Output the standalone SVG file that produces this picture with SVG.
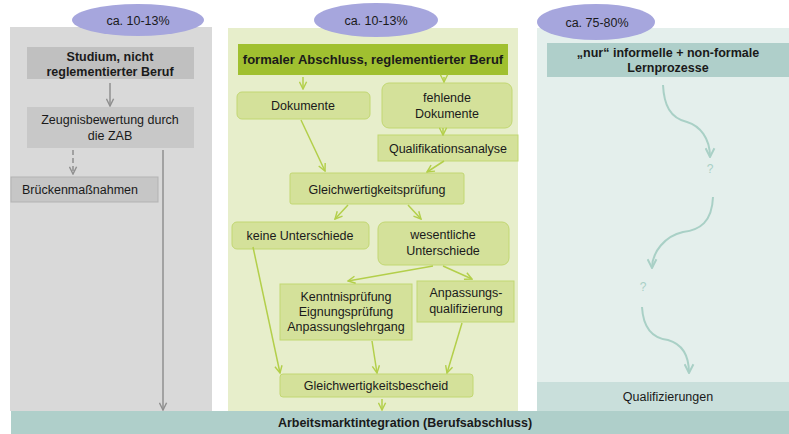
<svg xmlns="http://www.w3.org/2000/svg" width="789" height="434" viewBox="0 0 789 434">
<defs>
<style>
text{font-family:"Liberation Sans",Arial,sans-serif;font-size:12.5px;fill:#1a1a1a;text-anchor:middle}
.b{font-weight:bold}
.ell{fill:#a6a6dd}
.g1{fill:#c0c0c0}
.g2{fill:#c8c8c8}
.gn{fill:#d4e19a;stroke:#c2d772;stroke-width:1}
.gl{stroke:#b3cf4a;stroke-width:1.5;fill:none}
.gr{stroke:#8f8f8f;stroke-width:1.5;fill:none}
.tl{stroke:#a9d0c6;stroke-width:2;fill:none}
.q{fill:#a9d0c6;font-size:12px}
</style>
<marker id="ag" viewBox="0 0 10 10" refX="9" refY="5" markerWidth="9" markerHeight="9" markerUnits="userSpaceOnUse" orient="auto"><path d="M1,1 L9,5 L1,9" fill="none" stroke="#b3cf4a" stroke-width="1.6"/></marker>
<marker id="ar" viewBox="0 0 10 10" refX="9" refY="5" markerWidth="9" markerHeight="9" markerUnits="userSpaceOnUse" orient="auto"><path d="M1,1 L9,5 L1,9" fill="none" stroke="#8f8f8f" stroke-width="1.6"/></marker>
<marker id="at" viewBox="0 0 10 10" refX="9" refY="5" markerWidth="11" markerHeight="11" markerUnits="userSpaceOnUse" orient="auto"><path d="M1,1 L9,5 L1,9" fill="none" stroke="#a9d0c6" stroke-width="1.8"/></marker>
</defs>
<rect width="789" height="434" fill="#ffffff"/>
<g id="panels">
<rect x="10" y="27" width="202" height="384" fill="#d9d9d9"/>
<rect x="228" y="28" width="290" height="383" fill="#e7eecb"/>
<rect x="537" y="28" width="252" height="383" fill="#e4efec"/>
</g>
<g id="share-left"><ellipse class="ell" cx="138" cy="20" rx="66" ry="16"/><text x="138" y="25">ca. 10-13%</text></g>
<g id="share-mid"><ellipse class="ell" cx="376" cy="20" rx="62" ry="17"/><text x="376" y="25">ca. 10-13%</text></g>
<g id="share-right"><ellipse class="ell" cx="596" cy="22" rx="59" ry="18"/><text x="597" y="27">ca. 75-80%</text></g>

<g id="studium"><rect class="g1" x="27" y="47" width="167" height="32"/><text class="b" x="110" y="61">Studium, nicht</text><text class="b" x="110" y="76">reglementierter Beruf</text></g>
<g id="zab"><rect class="g2" x="27" y="107" width="167" height="41"/><text x="110" y="124">Zeugnisbewertung durch</text><text x="110" y="140">die ZAB</text></g>
<g id="bruecken"><rect x="11" y="177" width="147" height="25" fill="#c6c6c6" stroke="#b3b3b3"/><text x="80" y="194">Brückenmaßnahmen</text></g>

<g id="formal"><rect x="238" y="44" width="270" height="31" fill="#a0c030"/><text class="b" x="373" y="64" style="font-size:13px">formaler Abschluss, reglementierter Beruf</text></g>
<g id="dokumente"><rect class="gn" x="237" y="92" width="133" height="27" rx="5"/><text x="303" y="110">Dokumente</text></g>
<g id="fehlende"><rect class="gn" x="382" y="83" width="130" height="45" rx="7"/><text x="447" y="102">fehlende</text><text x="447" y="118">Dokumente</text></g>
<g id="qualianalyse"><rect class="gn" x="378" y="135" width="140" height="26"/><text x="448" y="153">Qualifikationsanalyse</text></g>
<g id="gwpruefung"><rect class="gn" x="290" y="173" width="174" height="31" rx="2"/><text x="377" y="194">Gleichwertigkeitsprüfung</text></g>
<g id="keine"><rect class="gn" x="232" y="222" width="137" height="27" rx="5"/><text x="300" y="240">keine Unterschiede</text></g>
<g id="wesentlich"><rect class="gn" x="378" y="222" width="131" height="43" rx="7"/><text x="443" y="239">wesentliche</text><text x="443" y="255">Unterschiede</text></g>
<g id="kenntnis"><rect class="gn" x="280" y="284" width="132" height="56"/><text x="346" y="301">Kenntnisprüfung</text><text x="346" y="316">Eignungsprüfung</text><text x="346" y="331">Anpassungslehrgang</text></g>
<g id="anpassung"><rect class="gn" x="417" y="281" width="97" height="41"/><text x="466" y="297">Anpassungs-</text><text x="466" y="313">qualifizierung</text></g>
<g id="bescheid"><rect class="gn" x="280" y="374" width="193" height="23" rx="3"/><text x="376" y="390">Gleichwertigkeitsbescheid</text></g>

<g id="informell"><rect x="547" y="43" width="242" height="34" fill="#afcfca"/><text class="b" x="668" y="57">„nur“ informelle + non-formale</text><text class="b" x="668" y="72">Lernprozesse</text></g>
<g id="q1"><text class="q" x="710" y="173">?</text></g>
<g id="q2"><text class="q" x="643" y="291">?</text></g>
<g id="qualifizierungen"><rect x="537" y="382" width="252" height="29" fill="#c9dfdb"/><text x="668" y="401">Qualifizierungen</text></g>

<g id="arbeitsmarkt"><rect x="11" y="411" width="778" height="23" fill="#afcfca"/><text class="b" x="405" y="427">Arbeitsmarktintegration (Berufsabschluss)</text></g>

<g id="connectors">
<line class="gr" x1="110" y1="83" x2="110" y2="106" marker-end="url(#ar)"/>
<line class="gr" x1="73" y1="150" x2="73" y2="174" stroke-dasharray="5,3" marker-end="url(#ar)"/>
<line class="gr" x1="163" y1="150" x2="163" y2="410" marker-end="url(#ar)"/>
<line class="gl" x1="303" y1="77" x2="303" y2="89" marker-end="url(#ag)"/>
<line class="gl" x1="444" y1="77" x2="444" y2="82" marker-end="url(#ag)"/>
<line class="gl" x1="443" y1="128" x2="443" y2="135" marker-end="url(#ag)"/>
<line class="gl" x1="301" y1="120" x2="325" y2="171" marker-end="url(#ag)"/>
<line class="gl" x1="444" y1="161" x2="427" y2="172" marker-end="url(#ag)"/>
<line class="gl" x1="348" y1="205" x2="335" y2="219" marker-end="url(#ag)"/>
<line class="gl" x1="408" y1="205" x2="421" y2="219" marker-end="url(#ag)"/>
<line class="gl" x1="433" y1="266" x2="348" y2="281" marker-end="url(#ag)"/>
<line class="gl" x1="443" y1="266" x2="472" y2="279" marker-end="url(#ag)"/>
<line class="gl" x1="253" y1="247" x2="280" y2="373" marker-end="url(#ag)"/>
<line class="gl" x1="372" y1="341" x2="377" y2="373" stroke-width="0.9" marker-end="url(#ag)"/>
<line class="gl" x1="462" y1="323" x2="447" y2="373" marker-end="url(#ag)"/>
<line class="gl" x1="382" y1="399" x2="382" y2="410" marker-end="url(#ag)"/>
<path class="tl" d="M663,85 C664,105 670,118 687,122 C700,126 710,138 710,157" marker-end="url(#at)"/>
<path class="tl" d="M713,197 C712,222 700,230 683,232 C665,236 652,252 652,268" marker-end="url(#at)"/>
<path class="tl" d="M642,307 C643,325 650,338 668,340 C682,344 689,356 689,373" marker-end="url(#at)"/>
</g>
</svg>
